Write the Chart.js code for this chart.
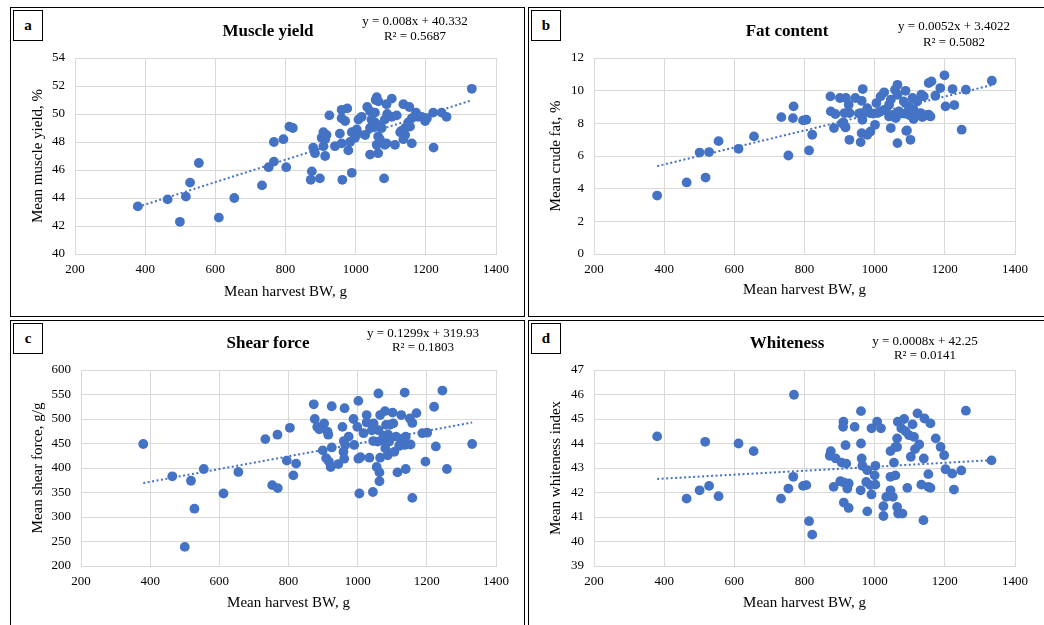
<!DOCTYPE html>
<html>
<head>
<meta charset="utf-8">
<script src="https://cdn.jsdelivr.net/npm/chart.js@4.4.0/dist/chart.umd.min.js"></script>
<style>
  body { margin: 0; background: #fff; width: 1044px; height: 625px; overflow: hidden; position: relative;
         font-family: "Liberation Serif", "Times New Roman", serif; color: #000; }
  .panel { position: absolute; border: 1px solid #000; box-sizing: border-box; }
  canvas { position: absolute; }
  .letter { position: absolute; width: 30px; height: 31px; border: 1px solid #000; box-sizing: border-box;
            text-align: center; line-height: 28px; font-weight: bold; font-size: 15px; background: #fff; }
  .title { position: absolute; transform: translate(-50%, -50%); font-weight: bold; font-size: 17px; white-space: nowrap; }
  .eq { position: absolute; transform: translate(-50%, -50%); font-size: 13px; white-space: nowrap; }
</style>
</head>
<body>
<div class="panel" style="left:10px;top:7px;width:515px;height:310px"></div>
<div class="panel" style="left:528px;top:7px;width:520px;height:310px"></div>
<div class="panel" style="left:10px;top:320px;width:515px;height:310px"></div>
<div class="panel" style="left:528px;top:320px;width:520px;height:310px"></div>

<canvas id="chartA" width="514" height="309" style="left:10px;top:7px"></canvas>
<canvas id="chartB" width="516" height="309" style="left:528px;top:7px"></canvas>
<canvas id="chartC" width="514" height="305" style="left:10px;top:320px"></canvas>
<canvas id="chartD" width="516" height="305" style="left:528px;top:320px"></canvas>

<div class="letter" style="left:13px;top:10px">a</div>
<div class="letter" style="left:531px;top:10px">b</div>
<div class="letter" style="left:13px;top:323px">c</div>
<div class="letter" style="left:531px;top:323px">d</div>

<div class="title" style="left:268px;top:31px">Muscle yield</div>
<div class="title" style="left:787px;top:31px">Fat content</div>
<div class="title" style="left:268px;top:343px">Shear force</div>
<div class="title" style="left:787px;top:343px">Whiteness</div>

<div class="eq" style="left:415px;top:21px">y = 0.008x + 40.332</div>
<div class="eq" style="left:415px;top:36px">R² = 0.5687</div>
<div class="eq" style="left:954px;top:26px">y = 0.0052x + 3.4022</div>
<div class="eq" style="left:954px;top:42px">R² = 0.5082</div>
<div class="eq" style="left:423px;top:333px">y = 0.1299x + 319.93</div>
<div class="eq" style="left:423px;top:347px">R² = 0.1803</div>
<div class="eq" style="left:925px;top:341px">y = 0.0008x + 42.25</div>
<div class="eq" style="left:925px;top:355px">R² = 0.0141</div>

<script>
// ---- data ----
const bwA = [379,464,499,516,528,553,610,654,733,752, 767,767,794,802,811,821,872,875,898,879,
  884,903,908,913,917,908,913,925,941,960, 955,960,976,960,970,979,984,989,998,1003,
  1007,962,989,1008,1017,1027,1033,1041,1041,1041, 1045,1050,1055,1057,1060,1065,1055,1060,1064,1060,
  1064,1069,1069,1074,1081,1083,1083,1088,1088,1090, 1103,1103,1117,1112,1127,1131,1136,1136,1141,1141,
  1150,1153,1155,1160,1160,1172,1178,1188,1198,1203, 1222,1221,1245,1259,1331];
const muscleYield = [43.4,43.9,42.3,44.1,45.1,46.5,42.6,44.0,44.9,46.2, 46.6,48.0,48.2,46.2,49.1,49.0,45.3,45.9,45.4,47.6,
  47.2,48.3,48.7,48.2,48.5,47.7,47.0,49.9,47.7,47.9, 48.6,50.3,50.4,49.7,49.5,47.4,48.0,48.7,48.3,48.9,
  48.6,45.3,45.8,49.6,49.8,48.5,50.5,50.2,49.0,47.1, 49.6,49.2,49.4,51.0,51.2,50.9,50.1,49.1,48.4,47.8,
  47.2,49.2,48.2,49.0,45.4,49.6,47.8,47.9,50.7,50.0, 51.1,49.8,49.9,47.8,48.7,48.8,50.7,48.2,49.0,48.5,
  49.4,50.5,49.1,47.9,49.7,50.1,49.8,49.8,49.5,49.7, 47.6,50.1,50.1,49.8,51.8];

const bwB = [380,464,518,501,528,555,612,656,734,754, 769,767,796,805,813,822,874,875,888,884,
  901,918,926,914,928,911,917,928,945,963, 966,960,965,963,960,979,988,979,986,1001,
  1005,1017,1027,1008,1027,1041,1046,1041,1046,1058, 1065,1065,1055,1060,1069,1065,1083,1088,1086,1090,
  1102,1108,1111,1111,1121,1133,1140,1131,1136,1154, 1162,1154,1159,1173,1187,1199,1202,1222,1227,1248,
  1260,1334, 955,975,995,1015,1050,1075,1100,1120,1145,1030,916,907,1092,1097];
const crudeFat = [3.58,4.38,4.68,6.21,6.24,6.91,6.44,7.20,8.38,6.03, 9.04,8.32,8.18,8.22,6.34,7.30,9.65,8.73,8.57,7.71,
  9.55,9.55,9.14,8.63,8.63,8.05,7.75,6.99,9.55,9.38, 10.1,8.63,8.22,7.40,6.85,8.93,7.50,7.30,8.63,7.91,
  9.24,9.65,9.9,8.63,8.83,9.14,9.45,8.42,7.71,10.06, 10.36,9.75,8.53,8.32,8.73,6.79,9.34,9.99,8.59,7.54,
  6.99,9.55,8.83,8.26,9.34,9.75,9.65,8.63,8.38,10.47, 10.57,8.53,8.42,9.69,10.16,10.94,9.04,10.1,9.12,7.61,
  10.06,10.61, 8.6,8.7,8.6,8.7,8.5,8.6,8.5,8.6,8.5,8.8,7.8,8.0,7.56,9.03];

const bwC = [380,464,518,528,500,555,612,655,733,753, 768,769,795,804,814,822,873,876,883,889,
  903,913,915,899,925,925,909,917,922,944, 962,956,964,959,961,974,988,990,1002,999,
  1002,1008,1005,1017,1026,1026,1034,1044,1041,1046, 1055,1060,1065,1058,1060,1065,1063,1063,1069,1079,
  1082,1088,1093,1091,1087,1101,1103,1106,1111,1115, 1122,1126,1136,1136,1139,1139,1151,1158,1153,1158,
  1170,1187,1201,1196,1221,1226,1245,1258,1331, 1120,1045,1075,960,1080,1130];
const shearForce = [449,383,374,317,239,398,348,392,459,365, 468,359,415,482,385,409,530,500,484,479,
  491,474,468,436,442,526,420,413,402,408, 522,484,447,433,419,464,500,447,537,484,
  419,422,348,471,508,493,421,351,477,491, 402,552,508,454,477,421,391,373,456,516,
  488,468,488,454,426,513,491,433,464,391, 447,508,554,447,464,398,501,492,448,339,
  512,471,472,413,525,444,558,398,449, 445,455,466,455,440,460];

const bwD = [380,464,501,517,528,555,612,655,733,754, 768,770,796,805,813,822,875,872,889,883,
  902,911,910,917,906,919,912,926,922,912, 926,943,961,961,963,965,979,976,960,979,
  988,991,991,1002,1000,1007,1002,1018,1025,1025, 1033,1045,1045,1045,1052,1055,1059,1059,1064,1066,
  1064,1064,1067,1079,1076,1084,1088,1093,1098,1103, 1108,1112,1115,1122,1127,1133,1139,1140,1142,1153,
  1153,1159,1159,1174,1188,1198,1202,1221,1226,1247, 1260,1333];
const whiteness = [44.29,41.75,42.09,44.07,42.27,41.85,44.0,43.69,41.75,42.16, 42.64,45.99,42.27,42.30,40.83,40.28,43.69,43.5,43.39,42.23,
  42.46,44.89,44.68,43.93,43.22,43.18,42.41,42.37,42.16,41.59, 41.37,44.68,45.32,44.0,43.39,43.09,42.91,42.43,42.09,41.23,
  42.3,41.92,44.62,43.09,42.7,44.89,42.32,44.62,41.44,41.04, 41.82,43.69,42.64,42.09,41.82,43.22,43.86,42.7,44.21,44.89,
  43.86,41.41,41.14,41.14,44.62,45.0,44.5,42.19,44.34,43.46, 44.78,44.27,43.77,45.23,43.96,42.32,40.87,43.39,45.02,42.75,
  42.23,42.19,44.82,44.21,43.86,43.52,42.95,42.77,42.12,42.9, 45.34,43.31];

// trendline coefficients, as printed on the chart
const trendA = [0.008, 40.332];
const trendB = [0.0052, 3.4022];
const trendC = [0.1299, 319.93];
const trendD = [0.0008, 42.25];

const xTicks = [200, 400, 600, 800, 1000, 1200, 1400];

// ---- drawing ----
const BLUE = '#4472C4';
const GRID = '#d9d9d9';
const FONT = '"Liberation Serif", "Times New Roman", serif';

const makeChart = (id, xs, ys, trend, yMin, yMax, yStep, yTitle, box) => {
  const lo = Math.min(...xs), hi = Math.max(...xs);
  const pts = xs.map((x, i) => ({ x: x, y: ys[i] }));
  const line = [lo, hi].map(x => ({ x: x, y: trend[0] * x + trend[1] }));
  return new Chart(document.getElementById(id), {
    type: 'scatter',
    data: {
      datasets: [
        { data: pts, backgroundColor: BLUE, borderWidth: 0, pointRadius: 4.9, order: 2 },
        { data: line, showLine: true, borderColor: BLUE, borderWidth: 2, borderDash: [2, 2.5],
          pointRadius: 0, fill: false, order: 1 }
      ]
    },
    options: {
      responsive: false,
      animation: false,
      layout: { padding: { left: 0, right: box.right, top: box.top, bottom: 0 } },
      plugins: { legend: { display: false }, tooltip: { enabled: false } },
      scales: {
        x: {
          type: 'linear', min: xTicks[0], max: xTicks[xTicks.length - 1],
          afterBuildTicks: s => { s.ticks = xTicks.map(v => ({ value: v })); },
          afterFit: s => { s.height = box.xh; },
          grid: { color: GRID, drawTicks: false },
          border: { color: GRID },
          ticks: { padding: 8, color: '#000', font: { family: FONT, size: 13 }, callback: v => String(v) },
          title: { display: true, text: 'Mean harvest BW, g', color: '#000',
                   font: { family: FONT, size: 15 }, padding: { top: 0, bottom: box.xt } }
        },
        y: {
          min: yMin, max: yMax,
          afterFit: s => { s.width = box.yw; },
          grid: { color: GRID, drawTicks: false },
          border: { color: GRID },
          ticks: { stepSize: yStep, padding: 10, color: '#000', font: { family: FONT, size: 13 }, callback: v => String(v) },
          title: { display: true, text: yTitle, color: '#000',
                   font: { family: FONT, size: 15 }, padding: { top: 19, bottom: 0 } }
        }
      }
    }
  });
};

makeChart('chartA', bwA, muscleYield, trendA, 40, 54, 2, 'Mean muscle yield, %',
  { yw: 65, right: 28, top: 51, xh: 62, xt: 15 });
makeChart('chartB', bwB, crudeFat, trendB, 0, 12, 2, 'Mean crude fat, %',
  { yw: 66, right: 29, top: 51, xh: 62, xt: 17 });
makeChart('chartC', bwC, shearForce, trendC, 200, 600, 50, 'Mean shear force, g/g',
  { yw: 71, right: 28, top: 50, xh: 59, xt: 13 });
makeChart('chartD', bwD, whiteness, trendD, 39, 47, 1, 'Mean whiteness index',
  { yw: 66, right: 29, top: 50, xh: 59, xt: 13 });
</script>
</body>
</html>
